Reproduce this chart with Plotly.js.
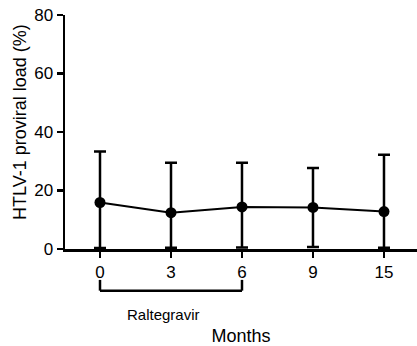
<!DOCTYPE html>
<html>
<head>
<meta charset="utf-8">
<script src="https://cdn.plot.ly/plotly-3.0.1.min.js"></script>
<style>html,body{margin:0;padding:0;background:#fff;}#chart{width:417px;height:346px;}</style>
</head>
<body>
<div id="chart"></div>
<script>
const months = ["0", "3", "6", "9", "15"];
const meanLoad = [15.9, 12.4, 14.4, 14.2, 12.8];
const upperLoad = [33.3, 29.5, 29.5, 27.7, 32.2];
const lowerLoad = [0.3, 0.4, 0.5, 0.7, 0.4];
const yTicks = [0, 20, 40, 60, 80];
const treatmentLabel = "Raltegravir";
const yTitle = "HTLV-1 proviral load (%)";
const xTitle = "Months";
const treatmentStart = 0; // index into months
const treatmentEnd = 2;   // index into months

const errPlus = upperLoad.map((u, i) => u - meanLoad[i]);
const errMinus = lowerLoad.map((l, i) => meanLoad[i] - l);

const font = "Liberation Sans, Arial, Helvetica, sans-serif";

const trace = {
  x: months,
  y: meanLoad,
  type: "scatter",
  mode: "lines+markers",
  line: {color: "#000", width: 2},
  marker: {color: "#000", size: 11},
  error_y: {
    type: "data", symmetric: false,
    array: errPlus, arrayminus: errMinus,
    color: "#000", thickness: 2.5, width: 6
  },
  cliponaxis: false,
  hoverinfo: "none"
};

const layout = {
  width: 417, height: 346,
  margin: {l: 65, r: 0, t: 15, b: 97},
  paper_bgcolor: "#fff", plot_bgcolor: "#fff",
  showlegend: false,
  font: {family: font, color: "#000", size: 17},
  xaxis: {
    type: "category",
    range: [-0.493, 4.465],
    showline: true, linecolor: "#000", linewidth: 2.5,
    ticks: "outside", ticklen: 6, tickwidth: 2.5, tickcolor: "#000",
    showgrid: false, zeroline: false,
    tickfont: {family: font, size: 17},
    title: {text: xTitle, font: {family: font, size: 18}, standoff: 52}
  },
  yaxis: {
    range: [0, 80],
    tickvals: yTicks,
    showline: true, linecolor: "#000", linewidth: 2.5,
    ticks: "outside", ticklen: 6, tickwidth: 2.5, tickcolor: "#000",
    showgrid: false, zeroline: false,
    tickfont: {family: font, size: 17}
  },
  shapes: [
    {type: "line", xref: "x", yref: "paper", x0: treatmentStart, x1: treatmentEnd, y0: -0.178, y1: -0.178, line: {color: "#000", width: 2.5}},
    {type: "line", xref: "x", yref: "paper", x0: treatmentStart, x1: treatmentStart, y0: -0.178, y1: -0.132, line: {color: "#000", width: 2.5}},
    {type: "line", xref: "x", yref: "paper", x0: treatmentEnd, x1: treatmentEnd, y0: -0.178, y1: -0.132, line: {color: "#000", width: 2.5}}
  ],
  annotations: [
    {text: treatmentLabel, xref: "x", yref: "paper", x: 0.89, y: -0.28,
     xanchor: "center", yanchor: "middle",
     showarrow: false, font: {family: font, size: 15, color: "#000"}},
    {text: yTitle, xref: "paper", yref: "paper", x: -0.128, y: 0.543,
     xanchor: "center", yanchor: "middle", textangle: -90,
     showarrow: false, font: {family: font, size: 18, color: "#000"}}
  ]
};

Plotly.newPlot("chart", [trace], layout, {staticPlot: true, displayModeBar: false});
</script>
</body>
</html>
